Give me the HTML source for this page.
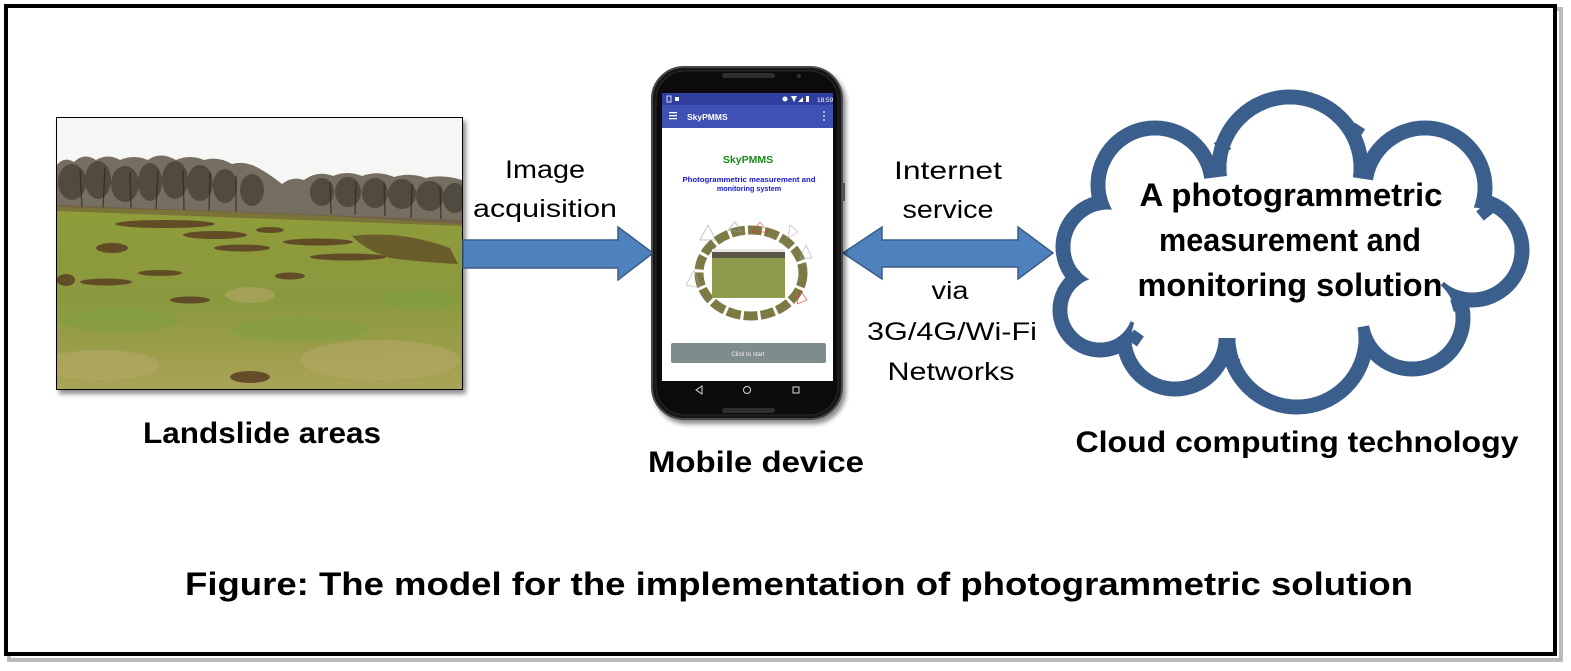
<!DOCTYPE html>
<html><head><meta charset="utf-8"><style>
html,body{margin:0;padding:0;background:#fff;}
svg{display:block;}
</style></head><body>
<svg width="1571" height="671" viewBox="0 0 1571 671" xmlns="http://www.w3.org/2000/svg" font-family="'Liberation Sans', sans-serif">
<defs>
  <filter id="sh" x="-10%" y="-10%" width="130%" height="130%">
    <feGaussianBlur in="SourceAlpha" stdDeviation="2.5"/>
    <feOffset dx="3" dy="4" result="b"/>
    <feComponentTransfer><feFuncA type="linear" slope="0.45"/></feComponentTransfer>
    <feMerge><feMergeNode/><feMergeNode in="SourceGraphic"/></feMerge>
  </filter>
  <linearGradient id="grass" x1="0" y1="0" x2="0" y2="1">
    <stop offset="0" stop-color="#8f9c3a"/>
    <stop offset="0.5" stop-color="#8a993e"/>
    <stop offset="0.8" stop-color="#9c9e4a"/>
    <stop offset="1" stop-color="#aaa458"/>
  </linearGradient>
  <clipPath id="pc"><rect x="57" y="118" width="405" height="271"/></clipPath>
</defs>

<!-- outer frame -->
<rect x="9" y="9" width="1552" height="651" fill="none" stroke="#bbb" stroke-width="4"/>
<rect x="6" y="6" width="1549" height="648" fill="#fff" stroke="#000" stroke-width="4"/>

<!-- landslide photo -->
<g filter="url(#sh)">
<rect x="56" y="117" width="407" height="273" fill="#000"/>
</g>
<g clip-path="url(#pc)">
  <rect x="57" y="118" width="405" height="271" fill="#f6f6f4"/>
  <!-- tree band -->
  <path d="M57,215 L57,165 Q64,156 74,162 Q84,152 96,160 Q108,153 120,160 Q134,154 148,160 Q160,151 176,160 Q190,154 204,160 Q218,156 232,164 Q246,160 262,170 Q272,176 282,184 Q292,176 304,180 Q318,170 333,176 Q347,170 362,176 Q378,170 394,177 Q410,172 426,178 Q442,174 462,180 L462,224 L300,216 Z" fill="#5e5646" opacity="0.85"/>
  <g fill="#3a3327" opacity="0.6">
    <ellipse cx="72" cy="182" rx="14" ry="18"/>
    <ellipse cx="98" cy="180" rx="13" ry="19"/>
    <ellipse cx="125" cy="184" rx="14" ry="18"/>
    <ellipse cx="150" cy="182" rx="12" ry="19"/>
    <ellipse cx="175" cy="180" rx="13" ry="19"/>
    <ellipse cx="200" cy="183" rx="13" ry="18"/>
    <ellipse cx="225" cy="186" rx="12" ry="17"/>
    <ellipse cx="252" cy="190" rx="12" ry="16"/>
    <ellipse cx="322" cy="192" rx="12" ry="14"/>
    <ellipse cx="348" cy="192" rx="13" ry="15"/>
    <ellipse cx="375" cy="193" rx="13" ry="15"/>
    <ellipse cx="402" cy="194" rx="14" ry="15"/>
    <ellipse cx="430" cy="196" rx="14" ry="15"/>
    <ellipse cx="455" cy="198" rx="12" ry="15"/>
  </g>
  <g stroke="#2a241c" stroke-width="1.3" opacity="0.7">
    <path d="M80,170 L82,208 M105,168 L103,208 M130,172 L131,209 M158,170 L156,210 M183,170 L184,210 M210,172 L209,211 M236,176 L236,212 M330,182 L331,214 M356,182 L355,215 M384,182 L385,216 M412,184 L411,218 M440,186 L441,219"/>
  </g>
  <path d="M57,207 L200,211 L330,216 L462,224 L462,389 L57,389 Z" fill="url(#grass)"/>
  <path d="M57,205 L462,220 L462,226 L57,211 Z" fill="#6e5a38" opacity="0.6"/>
  <g fill="#5a3f24" opacity="0.85">
    <ellipse cx="165" cy="224" rx="50" ry="4"/>
    <ellipse cx="215" cy="235" rx="32" ry="4"/>
    <ellipse cx="242" cy="248" rx="28" ry="3.5"/>
    <ellipse cx="270" cy="230" rx="14" ry="3"/>
    <ellipse cx="318" cy="242" rx="35" ry="3.5"/>
    <ellipse cx="348" cy="257" rx="38" ry="3.5"/>
    <path d="M352,236 Q400,230 450,248 L458,264 Q420,262 390,258 Q365,250 352,236 Z" opacity="0.8"/>
    <ellipse cx="66" cy="280" rx="9" ry="6"/>
    <ellipse cx="106" cy="282" rx="26" ry="3.5"/>
    <ellipse cx="160" cy="273" rx="22" ry="3"/>
    <ellipse cx="112" cy="248" rx="16" ry="5"/>
    <ellipse cx="250" cy="377" rx="20" ry="6"/>
    <ellipse cx="290" cy="276" rx="15" ry="3.5"/>
    <ellipse cx="190" cy="300" rx="20" ry="3.5"/>
  </g>
  <g fill="#b7a86a" opacity="0.55">
    <ellipse cx="100" cy="365" rx="60" ry="15"/>
    <ellipse cx="380" cy="360" rx="80" ry="20"/>
    <ellipse cx="250" cy="295" rx="25" ry="8"/>
  </g>
  <g fill="#78a040" opacity="0.4">
    <ellipse cx="120" cy="320" rx="60" ry="12"/>
    <ellipse cx="300" cy="330" rx="70" ry="12"/>
    <ellipse cx="420" cy="300" rx="40" ry="10"/>
  </g>
</g>

<!-- right arrow -->
<polygon points="463,240 618,240 618,227 653,253 618,280 618,268 463,268" fill="#4f81bd" stroke="#385d8a" stroke-width="1.5"/>

<!-- double arrow -->
<polygon points="843,253 882,227 882,240 1018,240 1018,227 1053,253 1018,279 1018,267 882,267 882,279" fill="#4f81bd" stroke="#385d8a" stroke-width="1.5"/>

<!-- arrow labels -->
<g font-size="25" fill="#000" text-anchor="middle">
  <text x="545" y="178" textLength="80" lengthAdjust="spacingAndGlyphs">Image</text>
  <text x="545" y="217" textLength="144" lengthAdjust="spacingAndGlyphs">acquisition</text>
  <text x="948" y="179" textLength="108" lengthAdjust="spacingAndGlyphs">Internet</text>
  <text x="948" y="218" textLength="91" lengthAdjust="spacingAndGlyphs">service</text>
  <text x="950" y="299" textLength="37" lengthAdjust="spacingAndGlyphs">via</text>
  <text x="952" y="340" textLength="170" lengthAdjust="spacingAndGlyphs">3G/4G/Wi-Fi</text>
  <text x="951" y="380" textLength="127" lengthAdjust="spacingAndGlyphs">Networks</text>
</g>

<!-- phone -->
<g filter="url(#sh)">
  <rect x="652" y="67" width="190" height="352" rx="32" ry="32" fill="#121212" stroke="#4a4a4a" stroke-width="2"/>
</g>
<rect x="656" y="71" width="182" height="344" rx="29" ry="29" fill="#0b0b0b" stroke="#2a2a2a" stroke-width="1"/>
<rect x="842" y="183" width="3" height="18" fill="#555"/>
<rect x="722" y="73" width="53" height="5" rx="2.5" fill="#2e2e2e"/>
<circle cx="799" cy="76" r="2" fill="#333"/>
<rect x="722" y="408" width="53" height="5" rx="2.5" fill="#2e2e2e"/>
<!-- screen -->
<rect x="662" y="93" width="171" height="288" fill="#fff"/>
<rect x="662" y="93" width="171" height="12" fill="#2f3f9f"/>
<rect x="662" y="105" width="171" height="23" fill="#3f51b5"/>
<g fill="#fff">
  <rect x="667" y="96" width="4" height="6" fill="none" stroke="#fff" stroke-width="0.8"/>
  <rect x="675" y="97" width="4" height="4"/>
  <circle cx="785" cy="99" r="2.5"/>
  <path d="M791,96 L797,96 L794,102 Z"/>
  <path d="M798,102 L803,97 L803,102 Z"/>
  <rect x="806" y="96" width="3" height="6"/>
  <text x="817" y="102" font-size="6.5">18:59</text>
  <rect x="669" y="112" width="8" height="1.3"/>
  <rect x="669" y="115" width="8" height="1.3"/>
  <rect x="669" y="118" width="8" height="1.3"/>
  <text x="687" y="120" font-size="8.5" font-weight="bold">SkyPMMS</text>
  <circle cx="824" cy="112" r="0.9"/>
  <circle cx="824" cy="116" r="0.9"/>
  <circle cx="824" cy="120" r="0.9"/>
</g>
<text x="748" y="163" font-size="10.5" font-weight="bold" fill="#1a8a1a" text-anchor="middle">SkyPMMS</text>
<text x="749" y="182" font-size="7.2" font-weight="bold" fill="#1515cc" text-anchor="middle" textLength="133" lengthAdjust="spacingAndGlyphs">Photogrammetric measurement and</text>
<text x="749" y="191" font-size="7.2" font-weight="bold" fill="#1515cc" text-anchor="middle">monitoring system</text>
<!-- ring of images -->
<g>
  <ellipse cx="751" cy="273" rx="52" ry="43" fill="none" stroke="#7d7a45" stroke-width="9" stroke-dasharray="14 3"/>
  <g fill="none" stroke-width="0.7" opacity="0.8">
    <path d="M700,240 L708,225 L716,240 Z M728,230 L735,222 L742,232 Z" stroke="#999"/>
    <path d="M752,232 L760,222 L768,232 Z" stroke="#d33"/>
    <path d="M800,290 L807,300 L797,304 Z" stroke="#d33"/>
    <path d="M790,225 L798,232 L788,238 Z M806,245 L812,258 L800,258 Z M694,270 L686,285 L700,288 Z" stroke="#aaa"/>
  </g>
  <rect x="712" y="249" width="73" height="49" fill="#8e9a4c"/>
  <rect x="712" y="249" width="73" height="9" fill="#5a5648"/>
  <rect x="712" y="249" width="73" height="3" fill="#e8e8e4"/>
</g>
<rect x="671" y="343" width="155" height="20" rx="2" fill="#7f8c8d"/>
<text x="748" y="356" font-size="6" fill="#f0f0f0" text-anchor="middle">Click to start</text>
<!-- nav bar -->
<g fill="none" stroke="#ddd" stroke-width="1">
  <path d="M702,386 L696,390 L702,394 Z"/>
  <circle cx="747" cy="390" r="3.5"/>
  <rect x="793" y="387" width="6" height="6"/>
</g>

<!-- cloud -->
<g fill="none" stroke="#3b5f8c" stroke-width="15">
  <circle cx="1108" cy="247" r="45"/>
  <circle cx="1155" cy="185" r="57"/>
  <circle cx="1290" cy="168" r="71"/>
  <circle cx="1425" cy="188" r="60"/>
  <circle cx="1472" cy="250" r="50"/>
  <circle cx="1412" cy="318" r="51"/>
  <circle cx="1297" cy="338" r="69"/>
  <circle cx="1175" cy="338" r="51"/>
  <circle cx="1100" cy="310" r="40"/>
</g>
<g fill="#fff">
  <circle cx="1108" cy="247" r="37.5"/>
  <circle cx="1155" cy="185" r="49.5"/>
  <circle cx="1290" cy="168" r="63.5"/>
  <circle cx="1425" cy="188" r="52.5"/>
  <circle cx="1472" cy="250" r="42.5"/>
  <circle cx="1412" cy="318" r="43.5"/>
  <circle cx="1297" cy="338" r="61.5"/>
  <circle cx="1175" cy="338" r="43.5"/>
  <circle cx="1100" cy="310" r="32.5"/>
  <polygon points="1108,247 1155,185 1290,168 1425,188 1472,250 1412,318 1297,338 1175,338 1100,310"/>
</g>
<!-- small inner ticks at lobe junctions -->
<g stroke="#3b5f8c" stroke-width="12" fill="none" stroke-linecap="butt">
  <path d="M1219,140 L1226,152"/>
  <path d="M1360,126 L1353,137"/>
  <path d="M1490,208 L1480,216"/>
  <path d="M1066,277 L1080,277"/>
  <path d="M1132,343 L1139,333"/>
  <path d="M1230,368 L1235,357"/>
  <path d="M1370,352 L1364,342"/>
  <path d="M1462,303 L1452,306"/>
</g>
<g font-size="32" font-weight="bold" fill="#000" text-anchor="middle">
  <text x="1291" y="206" textLength="303" lengthAdjust="spacingAndGlyphs">A photogrammetric</text>
  <text x="1290" y="251" textLength="262" lengthAdjust="spacingAndGlyphs">measurement and</text>
  <text x="1290" y="296" textLength="305" lengthAdjust="spacingAndGlyphs">monitoring solution</text>
</g>

<!-- captions -->
<g font-size="30" font-weight="bold" fill="#000" text-anchor="middle">
  <text x="262" y="443" textLength="238" lengthAdjust="spacingAndGlyphs">Landslide areas</text>
  <text x="756" y="472" textLength="216" lengthAdjust="spacingAndGlyphs">Mobile device</text>
  <text x="1297" y="452" textLength="443" lengthAdjust="spacingAndGlyphs">Cloud computing technology</text>
</g>
<text x="799" y="595" font-size="32" font-weight="bold" fill="#000" text-anchor="middle" textLength="1228" lengthAdjust="spacingAndGlyphs">Figure: The model for the implementation of photogrammetric solution</text>
</svg>
</body></html>
